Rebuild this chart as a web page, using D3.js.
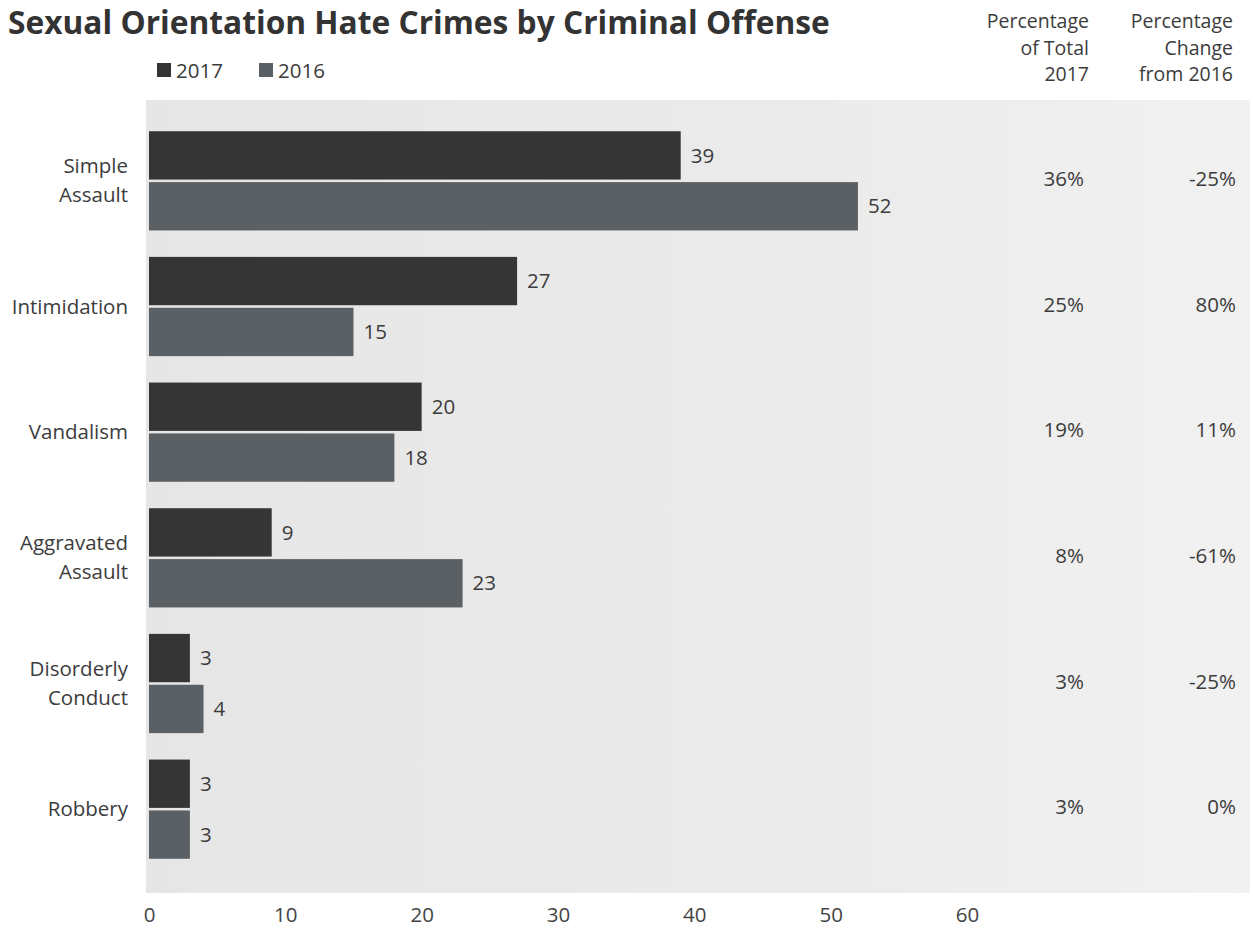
<!DOCTYPE html>
<html><head><meta charset="utf-8">
<script src="https://cdn.jsdelivr.net/npm/d3@7"></script>
<style>
html,body{margin:0;padding:0;background:#fff;}
svg{display:block;font-family:"Open Sans","Noto Sans",sans-serif;}
</style></head>
<body>
<svg id="chart" width="1253" height="932"></svg>
<script>
const categories = ["Simple Assault","Intimidation","Vandalism","Aggravated Assault","Disorderly Conduct","Robbery"];
const categoryLines = [["Simple","Assault"],["Intimidation"],["Vandalism"],["Aggravated","Assault"],["Disorderly","Conduct"],["Robbery"]];
const years = ["2017","2016"];
const values2017 = [39,27,20,9,3,3];
const values2016 = [52,15,18,23,4,3];
const pctTotal2017 = ["36%","25%","19%","8%","3%","3%"];
const pctChange = ["-25%","80%","11%","-61%","-25%","0%"];
const xTicks = [0,10,20,30,40,50,60];
const headerTotal = ["Percentage","of Total","2017"];
const headerChange = ["Percentage","Change","from 2016"];

const colors = {"2017":"#353535","2016":"#5a6063"};
const textColor = "#3c3c3c";
const fs = 20.5;

const svg = d3.select("#chart");

// background panel (scanned gray)
const defs = svg.append("defs");
const grad = defs.append("linearGradient").attr("id","bg").attr("x1","0").attr("x2","1").attr("y1","0").attr("y2","0");
grad.append("stop").attr("offset","0%").attr("stop-color","#e6e6e6");
grad.append("stop").attr("offset","60%").attr("stop-color","#ebebeb");
grad.append("stop").attr("offset","100%").attr("stop-color","#f1f1f1");
svg.append("rect").attr("x",146).attr("y",100).attr("width",1104).attr("height",793).attr("fill","url(#bg)");

const x = d3.scaleLinear().domain([0,60]).range([149,967]);
const y = d3.scaleBand().domain(categories).range([118,872]).paddingInner(0.17).paddingOuter(0.085);
const yInner = d3.scaleBand().domain(years).range([0,y.bandwidth()]).padding(0.05);

const data = categories.map((c,i)=>({cat:c,lines:categoryLines[i],"2017":values2017[i],"2016":values2016[i],pt:pctTotal2017[i],pc:pctChange[i]}));

// title
const title = svg.append("text").attr("x",8).attr("y",34)
  .attr("font-weight",700).attr("font-size",28).attr("fill","#333")
  .text("Sexual Orientation Hate Crimes by Criminal Offense");
const tl = title.node().getComputedTextLength();
title.attr("font-size", 28*822/tl);

// legend
const legend = svg.append("g");
const legItems = [{k:"2017",x:157},{k:"2016",x:259}];
legItems.forEach(d=>{
  legend.append("rect").attr("x",d.x).attr("y",63).attr("width",14).attr("height",14).attr("fill",colors[d.k]);
  legend.append("text").attr("x",d.x+19).attr("y",78).attr("font-size",fs).attr("fill",textColor).text(d.k);
});

// headers
function header(lines, xr){
  lines.forEach((t,i)=>{
    svg.append("text").attr("x",xr).attr("y",28+i*26.5).attr("text-anchor","end")
      .attr("font-size",19.5).attr("fill",textColor).text(t);
  });
}
header(headerTotal,1089);
header(headerChange,1233);

// bars
const groups = svg.append("g").selectAll("g").data(data).join("g")
  .attr("transform",d=>`translate(0,${y(d.cat)})`);
groups.selectAll("rect").data(d=>years.map(k=>({k,v:d[k]}))).join("rect")
  .attr("x",x(0)).attr("y",d=>yInner(d.k)).attr("height",yInner.bandwidth())
  .attr("width",d=>x(d.v)-x(0)).attr("fill",d=>colors[d.k]);
groups.selectAll("text.val").data(d=>years.map(k=>({k,v:d[k]}))).join("text").attr("class","val")
  .attr("x",d=>x(d.v)+10).attr("y",d=>yInner(d.k)+yInner.bandwidth()/2).attr("dy","0.35em")
  .attr("font-size",fs).attr("fill",textColor).text(d=>d.v);

// category labels
groups.each(function(d){
  const g = d3.select(this);
  const cy = y.bandwidth()/2;
  const n = d.lines.length, lh = 29;
  d.lines.forEach((t,i)=>{
    g.append("text").attr("x",128).attr("y",cy+(i-(n-1)/2)*lh).attr("dy","0.35em")
      .attr("text-anchor","end").attr("font-size",fs).attr("fill",textColor).text(t);
  });
  g.append("text").attr("x",1084).attr("y",cy-2).attr("dy","0.35em").attr("text-anchor","end")
    .attr("font-size",fs).attr("fill",textColor).text(d.pt);
  g.append("text").attr("x",1236).attr("y",cy-2).attr("dy","0.35em").attr("text-anchor","end")
    .attr("font-size",fs).attr("fill",textColor).text(d.pc);
});

// x axis
const xa = svg.append("g").attr("transform","translate(0,907)")
  .call(d3.axisBottom(x).tickValues(xTicks).tickSize(0).tickPadding(0).tickFormat(d3.format("d")));
xa.select(".domain").remove();
xa.selectAll("text").attr("font-size",fs).attr("fill","#444").attr("font-family","'Open Sans','Noto Sans',sans-serif").attr("dy","0.71em");
</script>
</body></html>
